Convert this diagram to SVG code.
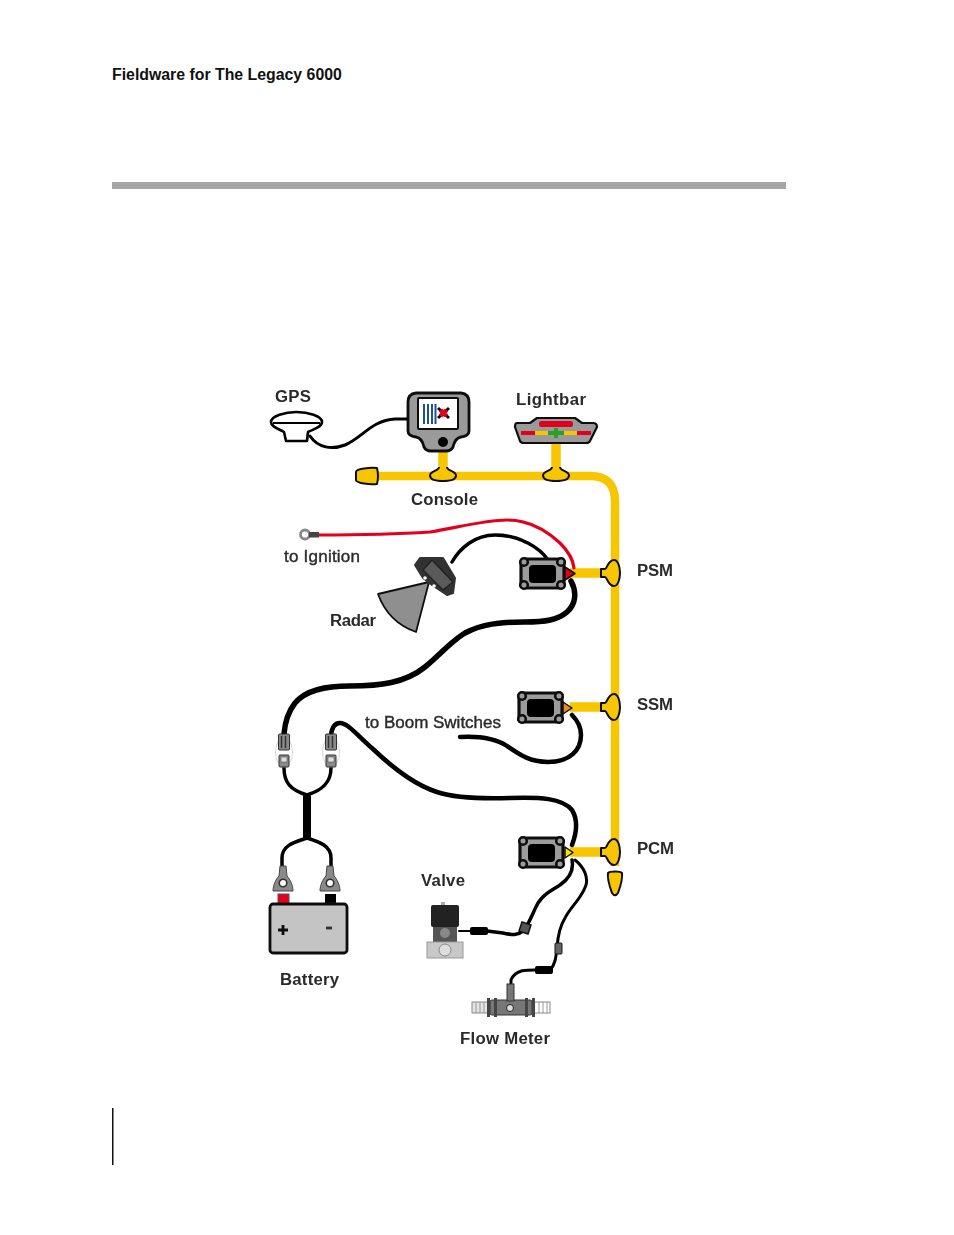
<svg xmlns="http://www.w3.org/2000/svg" width="954" height="1235" viewBox="0 0 954 1235">
<style>
text{font-family:"Liberation Sans",Arial,sans-serif;fill:#2b2b2b}
.lab{font-size:16.800px;font-weight:bold}
.thin{font-size:17px;font-weight:normal;stroke:#2b2b2b;stroke-width:.4}
.bus{fill:none;stroke:#f7c600;stroke-width:8.500}
.tee{fill:#f7c600;stroke:#111;stroke-width:2;stroke-linejoin:round}
.w{fill:none;stroke:#000;stroke-linecap:round;stroke-linejoin:round}
</style>
<defs>
<filter id="soft" x="-5%" y="-5%" width="110%" height="110%"><feGaussianBlur stdDeviation="0.5"/></filter>
<g id="module">
<rect x="2" y="2" width="43" height="29" rx="3" fill="#9c9c9c" stroke="#111" stroke-width="3.200"/>
<rect x="10" y="8" width="27" height="18" rx="4" fill="#000"/>
<circle cx="5" cy="5" r="3.800" fill="#9c9c9c" stroke="#111" stroke-width="2.600"/>
<circle cx="42" cy="5" r="3.800" fill="#9c9c9c" stroke="#111" stroke-width="2.600"/>
<circle cx="5" cy="28" r="3.800" fill="#9c9c9c" stroke="#111" stroke-width="2.600"/>
<circle cx="42" cy="28" r="3.800" fill="#9c9c9c" stroke="#111" stroke-width="2.600"/>
</g>
<path id="tee-v" class="tee" d="M-4-7C-4-3-13-3-13 1.500C-13 6-5 7 0 7C5 7 13 6 13 1.500C13-3 4-3 4-7"/>
<path id="tee-h" class="tee" d="M-12-4H-8C-6-4-5-13 1-13C5-13 7-6 7 0C7 6 5 13 1 13C-5 13-6 4-8 4H-12Z"/>
<g id="plug">
<ellipse cx="0" cy="18" rx="8.500" ry="15" fill="#fff" stroke="#ccc" stroke-width=".8"/>
<rect x="-5.500" y="0" width="11" height="16" rx="1" fill="#8a8a8a" stroke="#333"/>
<path d="M-2.500 2V14M1.500 2V14" stroke="#333" stroke-width="1.500"/>
<rect x="-5" y="21" width="10" height="12" rx="1" fill="#8a8a8a" stroke="#333"/>
<rect x="-3" y="23" width="6" height="5" fill="#ddd" stroke="#555" stroke-width=".6"/>
</g>
<g id="clamp">
<path d="M-3-16H3L4-6C7-3 10 3 10 9H-10C-10 3-7-3-4-6Z" fill="#8a8a8a" stroke="#444"/>
<circle cx="0" cy="1" r="3.800" fill="#fff" stroke="#333" stroke-width="1.600"/>
</g>
</defs>

<g id="header">
<text x="112" y="80" font-size="15.850" font-weight="bold" style="fill:#111">Fieldware for The Legacy 6000</text>
<rect x="112" y="182" width="674" height="7" fill="#a6a6a6"/>
<rect x="112" y="1108" width="1.500" height="57" fill="#111"/>
</g>

<g filter="url(#soft)">
<g id="connectors">
<path class="bus" d="M376 476H590Q615 476 615 501V866"/>
<path class="bus" d="M443 450V470M556 443V470M570 573H604M570 707H604M570 852H604" style="stroke-width:9.500"/>
<path class="w" stroke-width="3" d="M310 436C318 448 332 450 345 445C362 438 372 420 395 419H408"/>
<path class="w" stroke-width="3.200" d="M318 535C345 535 400 534 430 532C455 528 485 520 507 520C530 520 548 532 560 543C568 551 573 558 574 568" style="stroke:#e3001b"/>
<path class="w" stroke-width="3.500" d="M452 562C460 548 475 535 495 535C520 535 540 548 548 560"/>
<path class="w" stroke-width="5.500" d="M571 581C577 592 576 604 567 612C558 620 545 622 525 622C500 622 482 624 465 633C450 642 440 655 425 667C405 683 380 686 350 686C325 686 306 690 295 703C288 712 285 722 284 734"/>
<path class="w" stroke-width="4.500" d="M460 737C480 736 495 738 507 746C520 755 530 762 548 762C570 762 581 750 581 735C581 727 577 720 572 715"/>
<path class="w" stroke-width="4.500" d="M331 735C332 727 335 723 340 723C348 723 358 736 373 749C395 770 415 785 437 792C455 798 480 799 510 798C540 797 562 798 572 810C578 820 577 832 572 845"/>
<path class="w" stroke-width="3.500" d="M284 768C284 782 290 790 307 795C323 790 331 782 331 768"/>
<path class="w" stroke-width="8" d="M307 797V836"/>
<path class="w" stroke-width="3.500" d="M307 838C295 842 282 845 282 858V868M307 838C320 842 331 846 331 858V868"/>
<path class="w" stroke-width="3.500" d="M572 860C574 870 570 878 560 885C550 891 543 895 538 903C533 912 530 922 524 930C518 936 512 935 503 933L487 931"/>
<path class="w" stroke-width="3" d="M575 860C585 868 588 878 586 885C582 898 572 905 565 918C560 926 558 935 557 947C556 958 555 965 550 970L535 970C525 970 515 970 511 980V986"/>
</g>

<g id="gps">
<path d="M271 422C271 416 285 412 296.500 412C308 412 322 416 322 422C322 427 314 429 308 432L307 441H286L284 432C279 429 271 427 271 422Z" fill="#fff" stroke="#000" stroke-width="2.600" stroke-linejoin="round"/>
<path d="M273 423H320" stroke="#000" stroke-width="1.800"/>
<text class="lab" x="275" y="402" textLength="36" lengthAdjust="spacing">GPS</text>
</g>

<g id="console">
<path d="M416 393H461Q469 394 469 402V431Q469 436 461 437Q455 438 453 447Q451 451 446 451H431Q426 451 424 447Q422 438 416 437Q408 436 408 431V402Q408 394 416 393Z" fill="#9a9a9a" stroke="#111" stroke-width="2.800" stroke-linejoin="round"/>
<rect x="418" y="398" width="40" height="31" rx="1" fill="#fff" stroke="#111" stroke-width="2"/>
<path d="M424 404V424M428 404V424M432 404V424M435.500 404V424" stroke="#1d4f9c" stroke-width="2"/>
<path d="M438 408L449 418M449 408L438 418" stroke="#111" stroke-width="3"/>
<path d="M440.500 410L446.500 416M446.500 410L440.500 416" stroke="#e3001b" stroke-width="4.500"/>
<circle cx="443" cy="442" r="5" fill="#000"/>
<use href="#tee-v" x="443" y="474"/>
<text class="lab" x="411" y="505" textLength="67" lengthAdjust="spacing">Console</text>
</g>

<g id="lightbar">
<path d="M517 423H530L537 418H575L582 423H593Q597 423 597 427L590 441Q589 443 586 443H524Q521 443 520 441L515 427Q515 423 517 423Z" fill="#9a9a9a" stroke="#111" stroke-width="2.200" stroke-linejoin="round"/>
<rect x="539" y="421" width="34" height="6" rx="2.500" fill="#e3001b"/>
<rect x="521" y="431" width="14" height="4" fill="#e3001b"/>
<rect x="535" y="431" width="13" height="4" fill="#f7c600"/>
<rect x="564" y="431" width="13" height="4" fill="#f7c600"/>
<rect x="577" y="431" width="14" height="4" fill="#e3001b"/>
<path d="M548 433H564M556 428V438" stroke="#2aa02a" stroke-width="4"/>
<use href="#tee-v" x="556" y="474"/>
<text class="lab" x="516" y="405" textLength="70" lengthAdjust="spacing">Lightbar</text>
</g>

<g id="bus-end">
<path class="tee" d="M377 468Q379 476 377 484C370 485 356 483 356 480V472C356 469 370 467 377 468Z"/>
<path class="tee" d="M608 873C610 871 620 871 622 873C623 880 619 890 618 893C616 896 614 896 612 893C611 890 607 880 608 873Z"/>
</g>

<g id="ignition">
<circle cx="305" cy="534.500" r="4.500" fill="#fff" stroke="#888" stroke-width="2.800"/>
<rect x="309" y="532" width="10" height="5.500" fill="#444"/>
<text class="thin" x="284" y="562" textLength="76" lengthAdjust="spacing">to Ignition</text>
</g>

<g id="radar">
<path d="M378 594L429 582L416 632Q388 622 378 594Z" fill="#8f8f8f" stroke="#111" stroke-width="1.800" stroke-linejoin="round"/>
<path d="M420 558H443L455 578L453 593L447 595L432 585L423 578L415 565Z" fill="#333" stroke="#333" stroke-width="2" stroke-linejoin="round"/>
<path d="M432 560L453 582L443 590L423 570Z" fill="#5a5a5a" stroke="#222" stroke-width="1.500"/>
<circle cx="425" cy="578" r="1.800" fill="#fff"/>
<circle cx="434" cy="586" r="1.800" fill="#fff"/>
<text class="lab" x="330" y="626" textLength="46" lengthAdjust="spacing">Radar</text>
</g>

<g id="psm">
<use href="#module" x="519" y="557"/>
<path d="M565 567L575 573.500L565 580Z" fill="#e3001b" stroke="#111" stroke-width="1.500" stroke-linejoin="round"/>
<use href="#tee-h" x="613" y="573"/>
<text class="lab" x="637" y="576" textLength="36" lengthAdjust="spacing">PSM</text>
</g>

<g id="ssm">
<use href="#module" x="517" y="691"/>
<path d="M563 702L572 708L563 714Z" fill="#f08a12" stroke="#111" stroke-width="1.500" stroke-linejoin="round"/>
<use href="#tee-h" x="613" y="707"/>
<text class="lab" x="637" y="710" textLength="36" lengthAdjust="spacing">SSM</text>
<text class="thin" x="365" y="728" textLength="136" lengthAdjust="spacing">to Boom Switches</text>
</g>

<g id="pcm">
<use href="#module" x="518" y="836"/>
<path d="M565 847L573 852.500L565 858Z" fill="#f7e600" stroke="#111" stroke-width="1.500" stroke-linejoin="round"/>
<use href="#tee-h" x="613" y="852"/>
<text class="lab" x="637" y="854" textLength="37" lengthAdjust="spacing">PCM</text>
</g>

<g id="harness-plugs">
<use href="#plug" x="284" y="734"/>
<use href="#plug" x="331" y="734"/>
</g>

<g id="battery">
<use href="#clamp" x="283" y="882"/>
<use href="#clamp" x="330" y="882"/>
<rect x="278" y="894" width="11" height="10" fill="#e3001b" stroke="#555"/>
<rect x="325" y="894" width="11" height="10" fill="#000"/>
<rect x="270" y="904" width="77" height="49" rx="3" fill="#c4c4c4" stroke="#111" stroke-width="2.800"/>
<path d="M278 930H288M283 925V935" stroke="#111" stroke-width="2.800"/>
<path d="M326 928H332" stroke="#333" stroke-width="2.800"/>
<text class="lab" x="280" y="985" textLength="59" lengthAdjust="spacing">Battery</text>
</g>

<g id="valve">
<rect x="441" y="902" width="4" height="4" fill="#aaa"/>
<rect x="431" y="905" width="28" height="22" rx="2" fill="#222"/>
<rect x="433" y="927" width="24" height="15" fill="#555"/>
<circle cx="445" cy="933" r="5" fill="#888"/>
<rect x="427" y="942" width="36" height="16" fill="#c8c8c8" stroke="#999"/>
<circle cx="445" cy="950" r="6" fill="#ddd" stroke="#888"/>
<rect x="470" y="927" width="18" height="8" rx="2" fill="#000"/>
<path class="w" stroke-width="2" d="M459 931H472"/>
<path d="M522 922L531 925L528 934L519 931Z" fill="#555" stroke="#111" stroke-width="1.500"/>
<text class="lab" x="421" y="886" textLength="44" lengthAdjust="spacing">Valve</text>
</g>

<g id="flow-meter">
<rect x="535" y="966" width="18" height="8" rx="2" fill="#000"/>
<rect x="555" y="943" width="7" height="11" rx="1" fill="#666" stroke="#111"/>
<rect x="472" y="1002" width="16" height="11" fill="#e4e4e4" stroke="#888"/>
<path d="M476 1002V1013M480 1002V1013M484 1002V1013M539 1002V1013M543 1002V1013M547 1002V1013" stroke="#999"/>
<rect x="534" y="1002" width="16" height="11" fill="none" stroke="#888"/>
<rect x="490" y="1000" width="42" height="15" rx="2" fill="#777" stroke="#333"/>
<rect x="507" y="984" width="7" height="17" fill="#777" stroke="#333"/>
<circle cx="510" cy="1008" r="3.500" fill="#ddd" stroke="#222"/>
<rect x="487" y="998" width="3" height="19" fill="#444"/>
<rect x="494" y="998" width="3" height="19" fill="#444"/>
<rect x="525" y="998" width="3" height="19" fill="#444"/>
<rect x="532" y="998" width="3" height="19" fill="#444"/>
<text class="lab" x="460" y="1044" textLength="90" lengthAdjust="spacing">Flow Meter</text>
</g>
</g>
</svg>
